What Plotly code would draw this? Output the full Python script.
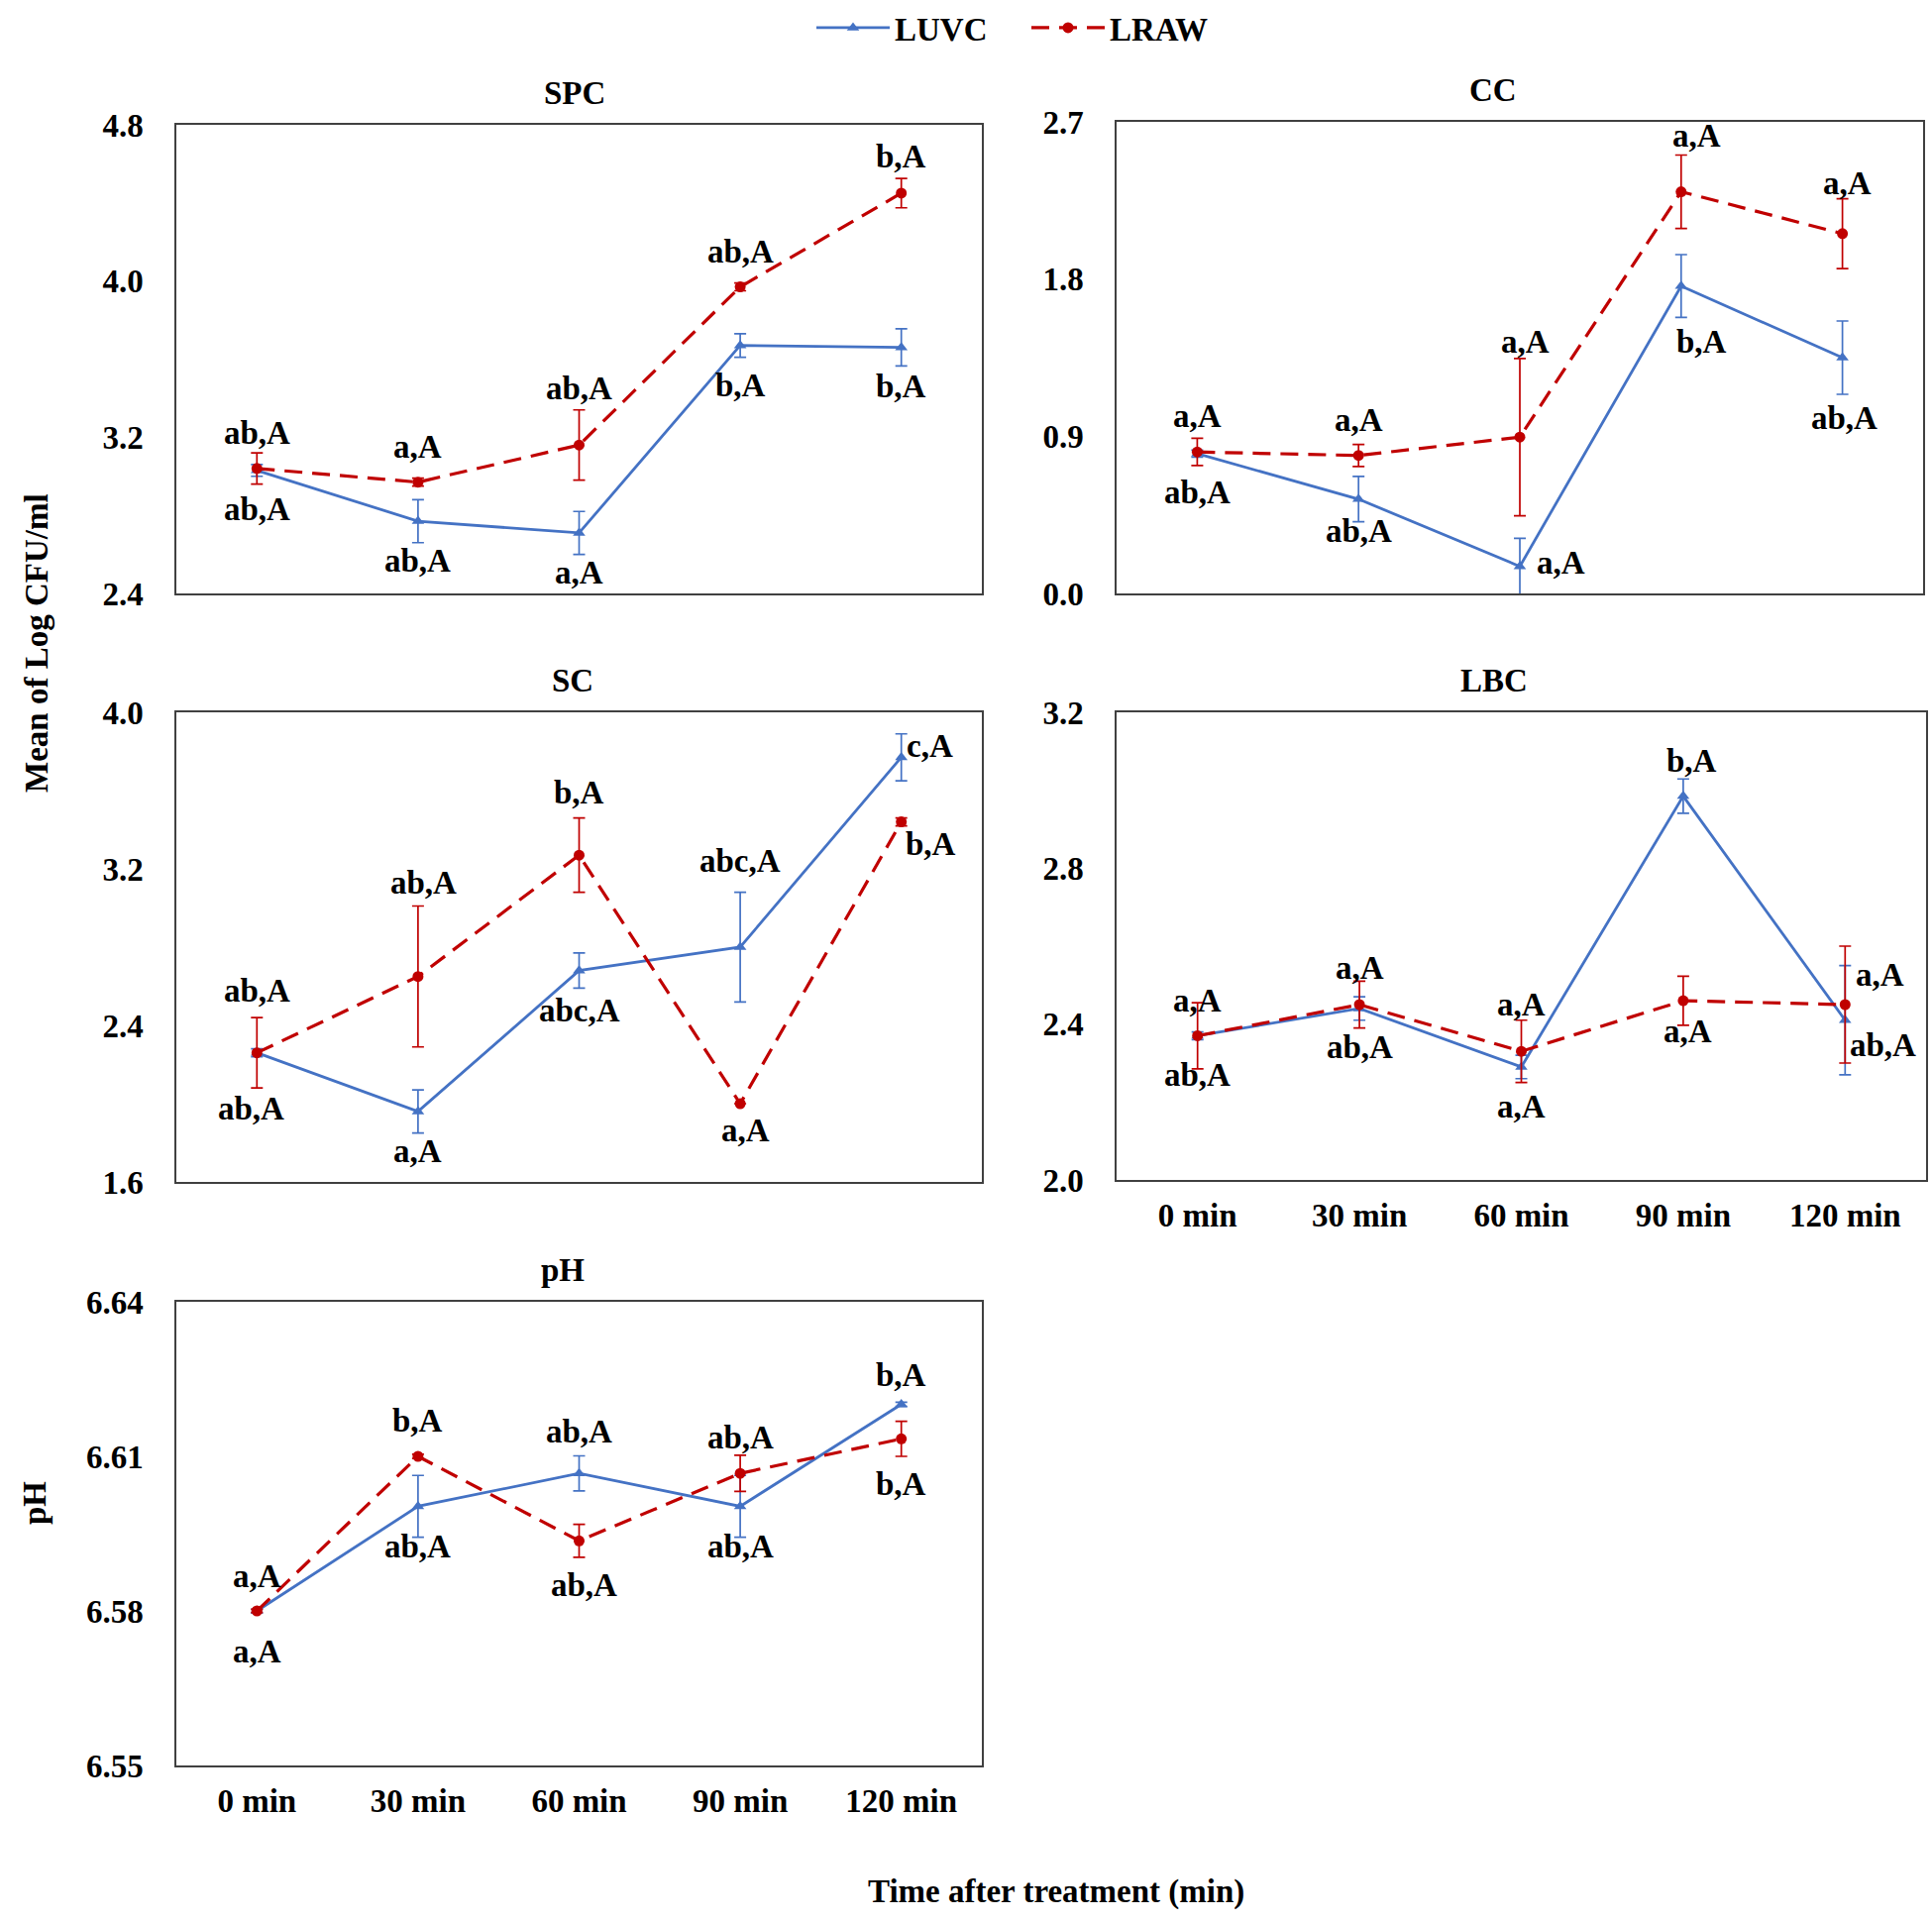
import plotly.graph_objects as go

# ---------------- data ----------------
times = ["0 min", "30 min", "60 min", "90 min", "120 min"]

spc_luvc = [3.03, 2.77, 2.71, 3.67, 3.66]
spc_luvc_err = [0.03, 0.11, 0.11, 0.06, 0.095]
spc_lraw = [3.04, 2.97, 3.16, 3.97, 4.45]
spc_lraw_err = [0.08, 0.02, 0.18, 0.02, 0.075]
spc_luvc_lbl = ["ab,A", "ab,A", "a,A", "b,A", "b,A"]
spc_lraw_lbl = ["ab,A", "a,A", "ab,A", "ab,A", "b,A"]

cc_luvc = [0.80, 0.54, 0.155, 1.76, 1.35]
cc_luvc_err = [0.02, 0.13, 0.16, 0.18, 0.21]
cc_lraw = [0.81, 0.79, 0.895, 2.30, 2.06]
cc_lraw_err = [0.078, 0.063, 0.45, 0.21, 0.20]
cc_luvc_lbl = ["ab,A", "ab,A", "a,A", "b,A", "ab,A"]
cc_lraw_lbl = ["a,A", "a,A", "a,A", "a,A", "a,A"]

sc_luvc = [2.26, 1.96, 2.68, 2.80, 3.77]
sc_luvc_err = [0.02, 0.11, 0.09, 0.28, 0.12]
sc_lraw = [2.26, 2.65, 3.27, 2.00, 3.44]
sc_lraw_err = [0.18, 0.36, 0.19, 0.0, 0.02]
sc_luvc_lbl = ["ab,A", "a,A", "abc,A", "abc,A", "c,A"]
sc_lraw_lbl = ["ab,A", "ab,A", "b,A", "a,A", "b,A"]

lbc_luvc = [2.37, 2.44, 2.29, 2.985, 2.41]
lbc_luvc_err = [0.01, 0.03, 0.03, 0.044, 0.14]
lbc_lraw = [2.37, 2.45, 2.33, 2.46, 2.45]
lbc_lraw_err = [0.085, 0.06, 0.08, 0.063, 0.15]
lbc_luvc_lbl = ["ab,A", "ab,A", "a,A", "b,A", "ab,A"]
lbc_lraw_lbl = ["a,A", "a,A", "a,A", "a,A", "a,A"]

ph_luvc = [6.580, 6.6003, 6.6067, 6.6003, 6.6201]
ph_luvc_err = [0.0003, 0.006, 0.0034, 0.006, 0.0004]
ph_lraw = [6.580, 6.610, 6.5936, 6.6067, 6.6134]
ph_lraw_err = [0.0003, 0.0004, 0.0032, 0.0035, 0.0034]
ph_luvc_lbl = ["a,A", "ab,A", "ab,A", "ab,A", "b,A"]
ph_lraw_lbl = ["a,A", "b,A", "ab,A", "ab,A", "b,A"]

panel_titles = ["SPC", "CC", "SC", "LBC", "pH"]
series_names = ["LUVC", "LRAW"]

# ---------------- layout / style ----------------
W, H = 1950, 1939
FONT = "Liberation Serif"
FS = 33
BLUE = "#4472C4"
RED = "#C00000"

# label offsets in pixels (dx, dy; dy positive = downward in picture)
off = {
    "SPC": {"luvc": [(0, 39), (0, 40), (0, 40), (0, 40), (0, 39)],
            "lraw": [(0, -36), (0, -36), (0, -57), (0, -36), (0, -37)]},
    "CC": {"luvc": [(0, 39), (0, 32), (41, -4), (21, 56), (2, 61)],
           "lraw": [(0, -36), (0, -36), (5, -96), (16, -57), (5, -51)]},
    "SC": {"luvc": [(-6, 56), (0, 40), (0, 40), (0, -87), (29, -11)],
           "lraw": [(0, -63), (6, -95), (0, -63), (5, 27), (30, 22)]},
    "LBC": {"luvc": [(0, 40), (0, 39), (0, 40), (9, -36), (38, 25)],
            "lraw": [(0, -35), (0, -37), (0, -47), (5, 31), (35, -30)]},
    "pH": {"luvc": [(0, 41), (0, 41), (0, -42), (0, 41), (0, -29)],
           "lraw": [(0, -35), (0, -36), (5, 45), (0, -36), (0, 46)]},
}

panels = [
    ("SPC", spc_luvc, spc_luvc_err, spc_lraw, spc_lraw_err, spc_luvc_lbl, spc_lraw_lbl,
     [178, 991], [126, 599], [2.4, 4.8], 0.8, ".1f", False, 580),
    ("CC", cc_luvc, cc_luvc_err, cc_lraw, cc_lraw_err, cc_luvc_lbl, cc_lraw_lbl,
     [1127, 1941], [123, 599], [0.0, 2.7], 0.9, ".1f", False, 1507),
    ("SC", sc_luvc, sc_luvc_err, sc_lraw, sc_lraw_err, sc_luvc_lbl, sc_lraw_lbl,
     [178, 991], [719, 1193], [1.6, 4.0], 0.8, ".1f", False, 578),
    ("LBC", lbc_luvc, lbc_luvc_err, lbc_lraw, lbc_lraw_err, lbc_luvc_lbl, lbc_lraw_lbl,
     [1127, 1944], [719, 1191], [2.0, 3.2], 0.4, ".1f", True, 1508),
    ("pH", ph_luvc, ph_luvc_err, ph_lraw, ph_lraw_err, ph_luvc_lbl, ph_lraw_lbl,
     [178, 991], [1314, 1782], [6.55, 6.64], 0.03, ".2f", True, 568),
]

fig = go.Figure()
annotations = []
layout_axes = {}

for i, (name, lu, lue, lr, lre, lul, lrl, px, py, yr, dt, fmt, showx, tx) in enumerate(panels):
    k = "" if i == 0 else str(i + 1)
    xa, ya = "x" + k, "y" + k
    dom_x = [px[0] / W, px[1] / W]
    dom_y = [1 - py[1] / H, 1 - py[0] / H]

    fig.add_trace(go.Scatter(
        x=times, y=lu, xaxis=xa, yaxis=ya, name=series_names[0],
        mode="lines+markers", showlegend=(i == 0), legendrank=1,
        line=dict(color=BLUE, width=2.8),
        marker=dict(symbol="triangle-up", size=11, color=BLUE),
        error_y=dict(type="data", array=lue, visible=True, color=BLUE,
                     thickness=1.7, width=6),
        cliponaxis=True, hoverinfo="skip"))
    fig.add_trace(go.Scatter(
        x=times, y=lr, xaxis=xa, yaxis=ya, name=series_names[1],
        mode="lines+markers", showlegend=(i == 0), legendrank=2,
        line=dict(color=RED, width=3.2, dash="18px,10px"),
        marker=dict(symbol="circle", size=11, color=RED),
        error_y=dict(type="data", array=lre, visible=True, color=RED,
                     thickness=1.7, width=6),
        cliponaxis=True, hoverinfo="skip"))

    layout_axes["xaxis" + k] = dict(
        domain=dom_x, anchor=ya, type="category", range=[-0.5, 4.5],
        showline=True, mirror=True, linecolor="#404040", linewidth=1.6,
        showgrid=False, zeroline=False, showticklabels=showx,
        ticks="outside" if showx else "", ticklen=6, tickcolor="rgba(0,0,0,0)",
        tickfont=dict(family=FONT, size=FS, color="black", weight="bold"),
        automargin=False, fixedrange=True)
    layout_axes["yaxis" + k] = dict(
        domain=dom_y, anchor=xa, range=yr, dtick=dt, tick0=yr[0],
        tickformat=fmt, showline=True, mirror=True, linecolor="#404040",
        linewidth=1.6, showgrid=False, zeroline=False,
        ticks="outside", ticklen=25, tickcolor="rgba(0,0,0,0)",
        tickfont=dict(family=FONT, size=FS, color="black", weight="bold"),
        automargin=False, fixedrange=True)

    # panel title
    annotations.append(dict(
        text="<b>%s</b>" % name, xref="paper", yref="paper",
        x=tx / W, y=1 - (py[0] - 32) / H, showarrow=False,
        xanchor="center", yanchor="middle",
        font=dict(family=FONT, size=FS, color="black")))

    # significance labels
    for key, vals, lbls in (("luvc", lu, lul), ("lraw", lr, lrl)):
        for j, (t, v, lb) in enumerate(zip(times, vals, lbls)):
            dx, dy = off[name][key][j]
            annotations.append(dict(
                text="<b>%s</b>" % lb, xref=xa, yref=ya, x=t, y=v,
                xshift=dx, yshift=-dy, showarrow=False,
                xanchor="center", yanchor="middle",
                font=dict(family=FONT, size=FS, color="black")))

# axis titles
annotations.append(dict(
    text="<b>Mean of Log CFU/ml</b>", xref="paper", yref="paper",
    x=37 / W, y=1 - 649 / H, showarrow=False, textangle=-90,
    xanchor="center", yanchor="middle",
    font=dict(family=FONT, size=FS, color="black")))
annotations.append(dict(
    text="<b>pH</b>", xref="paper", yref="paper",
    x=35 / W, y=1 - 1517 / H, showarrow=False, textangle=-90,
    xanchor="center", yanchor="middle",
    font=dict(family=FONT, size=FS, color="black")))
annotations.append(dict(
    text="<b>Time after treatment (min)</b>", xref="paper", yref="paper",
    x=1066 / W, y=1 - 1909 / H, showarrow=False,
    xanchor="center", yanchor="middle",
    font=dict(family=FONT, size=FS, color="black")))

fig.update_layout(
    width=W, height=H,
    margin=dict(l=0, r=0, t=0, b=0, autoexpand=False),
    paper_bgcolor="white", plot_bgcolor="white",
    showlegend=True, hovermode=False,
    legend=dict(orientation="h", x=1036 / W, y=1.0,
                xanchor="center", yanchor="top",
                font=dict(family=FONT, size=FS, color="black", weight="bold"),
                itemwidth=74, entrywidth=128, bgcolor="rgba(0,0,0,0)",
                traceorder="normal", tracegroupgap=0),
    annotations=annotations,
    **layout_axes)

fig.write_html("out.html",
               config={"displayModeBar": False, "staticPlot": True},
               post_script="document.body.style.margin='0px';"
                           "document.body.style.padding='0px';")
